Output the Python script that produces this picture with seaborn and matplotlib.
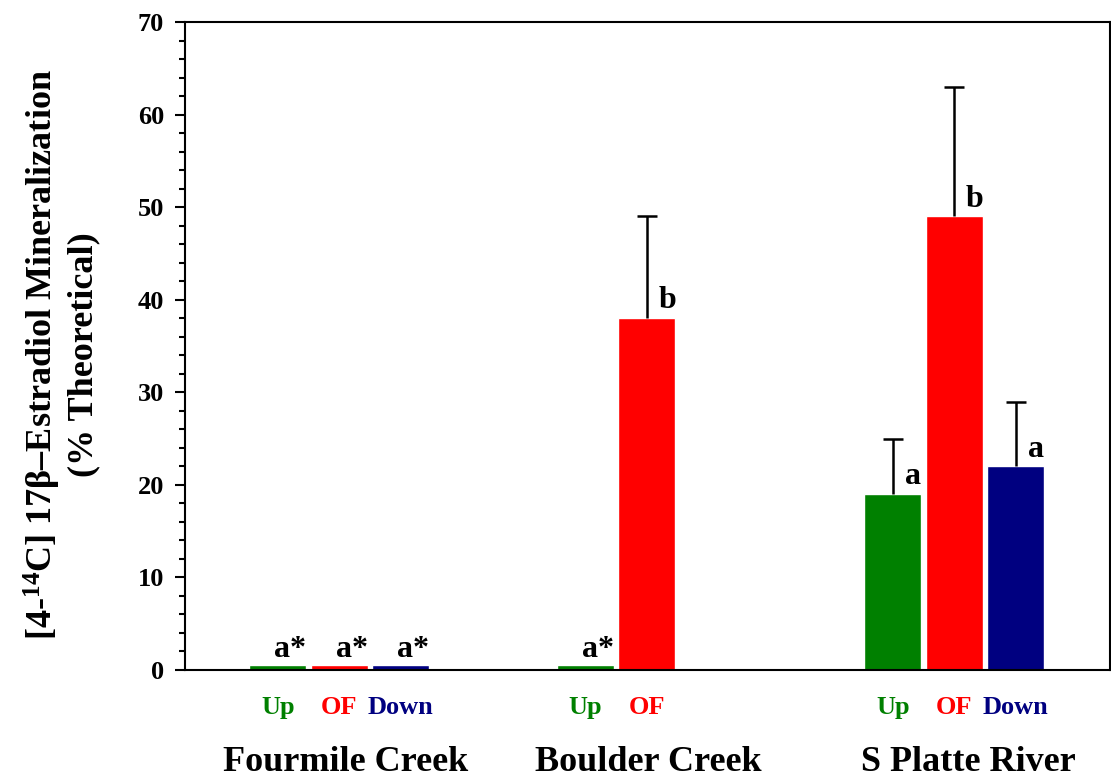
import matplotlib
matplotlib.use('Agg')
import matplotlib.pyplot as plt
from matplotlib.ticker import MultipleLocator
import seaborn as sns
import pandas as pd

# data
groups = ['Fourmile Creek', 'Boulder Creek', 'S Platte River']
sites = ['Up', 'OF', 'Down']
fourmile_vals = [0.5, 0.5, 0.5]
boulder_vals = [0.5, 38]
splatte_vals = [19, 49, 22]
fourmile_err = [0, 0, 0]
boulder_err = [0, 11]
splatte_err = [6, 14, 7]
fourmile_letters = ['a*', 'a*', 'a*']
boulder_letters = ['a*', 'b']
splatte_letters = ['a', 'b', 'a']

colors = {'Up': '#008000', 'OF': '#ff0000', 'Down': '#000080'}

# build long table, each group start at a slot
group_start = [0, 5, 10]
group_label_pos = [1.1, 6.03, 11.23]
rows = []
all_vals = [fourmile_vals, boulder_vals, splatte_vals]
all_err = [fourmile_err, boulder_err, splatte_err]
all_letters = [fourmile_letters, boulder_letters, splatte_letters]
for g, start, vals, errs, lets in zip(groups, group_start, all_vals, all_err, all_letters):
    for i, v in enumerate(vals):
        rows.append({'group': g, 'site': sites[i], 'pos': float(start + i),
                     'value': v, 'err': errs[i], 'letter': lets[i]})
df = pd.DataFrame(rows)

sns.set_style('white')
plt.rcParams['font.family'] = ['Liberation Serif', 'DejaVu Serif']
plt.rcParams['font.weight'] = 'bold'
plt.rcParams['text.color'] = 'black'
plt.rcParams['axes.labelcolor'] = 'black'
plt.rcParams['xtick.color'] = 'black'
plt.rcParams['ytick.color'] = 'black'
plt.rcParams['mathtext.fontset'] = 'custom'
plt.rcParams['mathtext.rm'] = 'Liberation Serif'
plt.rcParams['mathtext.default'] = 'rm'

fig = plt.figure(figsize=(11.11, 7.78), dpi=100)
ax = fig.add_axes([185 / 1111, 1 - 670 / 778, (1110 - 185) / 1111, (670 - 22) / 778])

sns.barplot(data=df, x='pos', y='value', hue='site', palette=colors,
            native_scale=True, dodge=False, width=0.93, errorbar=None,
            legend=False, ax=ax, saturation=1)

# one side error bar (only upper)
eb = df[df['err'] > 0]
_, caps, _ = ax.errorbar(eb['pos'], eb['value'], yerr=[[0] * len(eb), eb['err']],
                         fmt='none', ecolor='black', elinewidth=1.8,
                         capsize=7, capthick=1.8, zorder=5)
caps[0].set_visible(False)

# significance letters
for _, r in df.iterrows():
    if r['letter'] == 'a*':
        ax.text(r['pos'] + 0.2, r['value'] + 0.15, r['letter'], ha='center',
                va='bottom', fontsize=23, fontweight='bold', color='black')
    else:
        ax.text(r['pos'] + 0.19, r['value'] + 0.3, r['letter'], ha='left',
                va='bottom', fontsize=23, fontweight='bold', color='black')

ax.set_xlim(-1.51, 13.53)
ax.set_ylim(0, 70)
ax.yaxis.set_major_locator(MultipleLocator(10))
ax.yaxis.set_minor_locator(MultipleLocator(2))
ax.tick_params(axis='y', which='major', direction='out', length=7, width=1.5,
               labelsize=19, pad=8, left=True)
ax.tick_params(axis='y', which='minor', direction='out', length=4.5, width=1.5, left=True)
for lab in ax.get_yticklabels():
    lab.set_fontweight('bold')

ax.set_xticks(df['pos'])
ax.set_xticklabels(df['site'])
ax.tick_params(axis='x', length=0, labelsize=19, pad=19)
for lab, s in zip(ax.get_xticklabels(), df['site']):
    lab.set_color(colors[s])
    lab.set_fontweight('bold')

for g, p in zip(groups, group_label_pos):
    ax.text(p, -0.142, g, transform=ax.get_xaxis_transform(), ha='center',
            va='center', fontsize=26, fontweight='bold', color='black')

ax.set_xlabel('')
ax.set_ylabel('')
for sp in ax.spines.values():
    sp.set_linewidth(1.5)
    sp.set_color('black')

fig.text(61 / 1111, 1 - 355 / 778,
         '[4-$^{14}$C] 17β–Estradiol Mineralization\n(% Theoretical)',
         rotation=90, ha='center', va='center', multialignment='center',
         fontsize=26, fontweight='bold', linespacing=1.2, color='black')

plt.savefig('out.png', dpi=100)
plt.close()
